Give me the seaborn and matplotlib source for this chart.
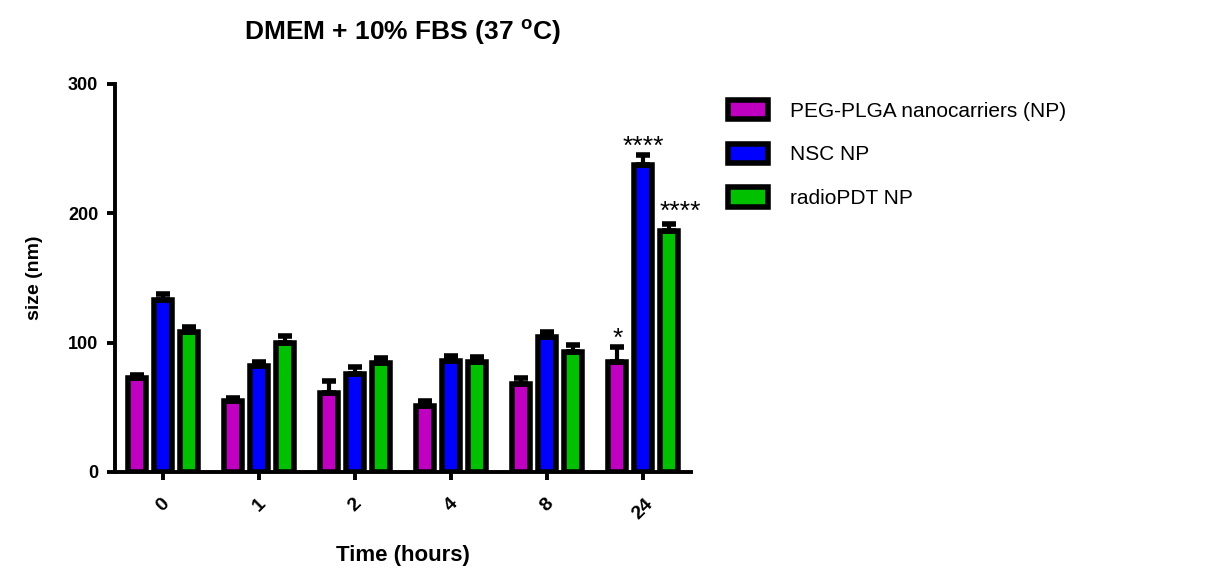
import numpy as np
import pandas as pd
import matplotlib
matplotlib.use("Agg")
import matplotlib.pyplot as plt
import seaborn as sns

# ---------------- data ----------------
times = ["0", "1", "2", "4", "8", "24"]
series = ["PEG-PLGA nanocarriers (NP)", "NSC NP", "radioPDT NP"]
peg_plga = [73, 55, 61, 51, 68, 85]
nsc = [133, 82, 76, 86, 104, 237]
radiopdt = [108, 100, 84, 85, 93, 186]
peg_plga_err = [2, 2.5, 9, 4, 5, 12]
nsc_err = [5, 3, 5, 4, 4, 8]
radiopdt_err = [4, 5, 4, 4, 5, 6]
sig_peg = ["", "", "", "", "", "*"]
sig_nsc = ["", "", "", "", "", "****"]
sig_radio = ["", "", "", "", "", "****"]
colors = ["#C000C0", "#0000FF", "#00C000"]
yticks = [0, 100, 200, 300]

df = pd.DataFrame({
    "time": times * 3,
    "size": peg_plga + nsc + radiopdt,
    "series": [series[0]] * 6 + [series[1]] * 6 + [series[2]] * 6,
})

sns.set_style("ticks")
plt.rcParams["font.family"] = ["Liberation Sans", "DejaVu Sans"]
plt.rcParams.update({"text.color": "black", "axes.labelcolor": "black",
                     "xtick.color": "black", "ytick.color": "black",
                     "axes.edgecolor": "black"})

fig = plt.figure(figsize=(12.19, 5.82), dpi=100)
ax = fig.add_axes([115 / 1219, 110 / 582, 576 / 1219, 388 / 582])

sns.barplot(data=df, x="time", y="size", hue="series", order=times,
            hue_order=series, palette=colors, saturation=1,
            edgecolor="black", linewidth=4, gap=0.3, errorbar=None,
            ax=ax)

errs = [peg_plga_err, nsc_err, radiopdt_err]
sigs = [sig_peg, sig_nsc, sig_radio]
for i, (cont, e, s) in enumerate(zip(ax.containers, errs, sigs)):
    xs = np.array([p.get_x() + p.get_width() / 2 for p in cont])
    hs = np.array([p.get_height() for p in cont])
    ax.errorbar(xs, hs, yerr=[np.zeros(len(e)), e], fmt="none",
                ecolor="black", elinewidth=3, capsize=5, capthick=4,
                zorder=3)
    for x, h, ee, lab in zip(xs, hs, e, s):
        if lab:
            dx = 0.12 if i == 2 else 0.0
            dy = 0 if i == 2 else -3
            ax.text(x + dx, h + ee + dy, lab, ha="center", va="bottom",
                    fontsize=19, color="black")

ax.set_ylim(0, 300)
ax.set_xlim(-0.5, 5.5)
ax.set_yticks(yticks)
ax.set_yticklabels([str(t) for t in yticks], fontweight="bold", fontsize=13)
sns.despine(ax=ax)
for sp in ["left", "bottom"]:
    ax.spines[sp].set_linewidth(2.8)
    ax.spines[sp].set_color("black")
ax.tick_params(axis="both", width=2.8, length=6, color="black")
ax.tick_params(axis="y", pad=6)
ax.tick_params(axis="x", pad=11)
for lbl in ax.get_xticklabels():
    lbl.set_rotation(45)
    lbl.set_ha("center")
    lbl.set_va("top")
    lbl.set_fontweight("bold")
    lbl.set_fontsize(14)

ax.set_xlabel("Time (hours)", fontweight="bold", fontsize=16, labelpad=16)
ax.set_ylabel("size (nm)", fontweight="bold", fontsize=14, labelpad=18)
ax.set_title(r"DMEM + 10% FBS (37 $^{\mathregular{o}}$C)", fontweight="bold",
             fontsize=19, pad=32)

handles, labels = ax.get_legend_handles_labels()
ax.get_legend().remove()
fig.legend(handles, labels, loc="upper left",
           bbox_to_anchor=(728 / 1219, 1 - 100 / 582), frameon=False,
           fontsize=15, handlelength=1.9, handleheight=1.05,
           handletextpad=1.1, labelspacing=1.1, borderpad=0,
           borderaxespad=0)

fig.savefig("out.png", dpi=100)
